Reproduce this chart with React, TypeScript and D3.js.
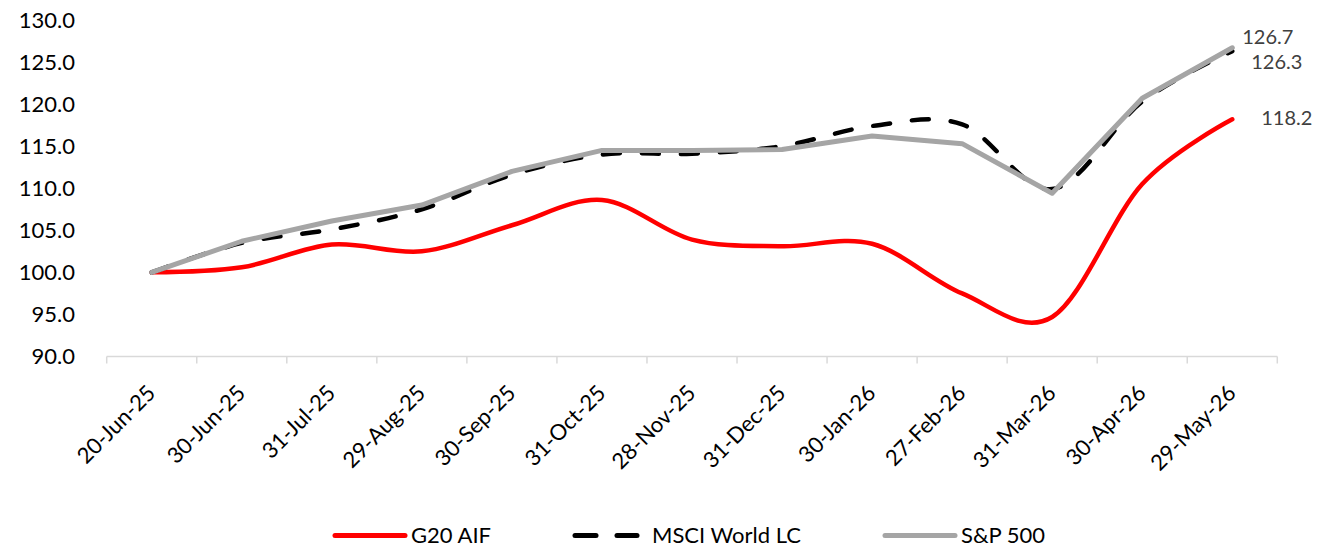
import React from "react";
import * as d3 from "d3";

// Index levels, rebased to 100 on 20-Jun-25
const categories = [
  "20-Jun-25", "30-Jun-25", "31-Jul-25", "29-Aug-25", "30-Sep-25", "31-Oct-25",
  "28-Nov-25", "31-Dec-25", "30-Jan-26", "27-Feb-26", "31-Mar-26", "30-Apr-26", "29-May-26",
];
const g20Aif = [100.0, 100.6, 103.3, 102.5, 105.6, 108.6, 103.9, 103.1, 103.4, 97.5, 94.7, 110.5, 118.2];
const msciWorld = [100.0, 103.5, 105.1, 107.5, 111.6, 114.0, 114.1, 115.0, 117.4, 117.6, 109.9, 120.3, 126.3];
const sp500 = [100.0, 103.7, 106.1, 108.0, 112.0, 114.5, 114.5, 114.6, 116.2, 115.3, 109.4, 120.7, 126.7];
const yTicks = [90, 95, 100, 105, 110, 115, 120, 125, 130];

const W = 1319;
const H = 549;
const FONT = "Lato, 'Open Sans', sans-serif";

const x = d3.scaleBand<string>().domain(categories).range([106.7, 1277.3]);
const y = d3.scaleLinear().domain([90, 130]).range([356.5, 20]);
const cx = (c: string) => (x(c) as number) + x.bandwidth() / 2;

const smooth = d3
  .line<number>()
  .x((_, i) => cx(categories[i]))
  .y((v) => y(v))
  .curve(d3.curveCatmullRom.alpha(0));
const straight = d3
  .line<number>()
  .x((_, i) => cx(categories[i]))
  .y((v) => y(v));

const series = [
  { name: "G20 AIF", color: "#FF0000", width: 4.5, dash: undefined as string | undefined, path: smooth(g20Aif), legendX: 335 },
  { name: "MSCI World LC", color: "#000000", width: 4.5, dash: "17 22", path: smooth(msciWorld), legendX: 575 },
  { name: "S&P 500", color: "#A5A5A5", width: 5, dash: undefined, path: straight(sp500), legendX: 885 },
];

const endLabels = [
  { text: sp500[sp500.length - 1].toFixed(1), dx: 10, y: 36.7 },
  { text: msciWorld[msciWorld.length - 1].toFixed(1), dx: 19, y: 61.7 },
  { text: g20Aif[g20Aif.length - 1].toFixed(1), dx: 29, y: 118.3 },
];

export default function App() {
  const ticks = [...categories.map((c) => x(c) as number), (x(categories[categories.length - 1]) as number) + x.bandwidth()];
  const lastX = cx(categories[categories.length - 1]);
  return (
    <svg
      width={W}
      height={H}
      viewBox={`0 0 ${W} ${H}`}
      style={{ position: "absolute", left: 0, top: 0, background: "#fff" }}
      fontFamily={FONT}
    >
      {/* y axis labels */}
      {yTicks.map((t) => (
        <text key={t} x={75} y={y(t)} dy="0.35em" textAnchor="end" fontSize={22} fill="#000">
          {t.toFixed(1)}
        </text>
      ))}

      {/* x axis */}
      <line x1={ticks[0]} x2={ticks[ticks.length - 1]} y1={y(90)} y2={y(90)} stroke="#D9D9D9" strokeWidth={1.5} />
      {ticks.map((t, i) => (
        <line key={i} x1={t} x2={t} y1={y(90)} y2={y(90) + 7} stroke="#D9D9D9" strokeWidth={1.5} />
      ))}
      {categories.map((c) => (
        <text
          key={c}
          transform={`translate(${cx(c) + 5},${y(90) + 38}) rotate(-45)`}
          textAnchor="end"
          fontSize={22}
          fill="#000"
        >
          {c}
        </text>
      ))}

      {/* series */}
      {series.map((s) => (
        <path
          key={s.name}
          d={s.path || ""}
          fill="none"
          stroke={s.color}
          strokeWidth={s.width}
          strokeDasharray={s.dash}
          strokeLinecap="round"
          strokeLinejoin="round"
        />
      ))}

      {/* end-point values */}
      {endLabels.map((l) => (
        <text key={l.text} x={lastX + l.dx} y={l.y} dy="0.35em" fontSize={20} fill="#404040">
          {l.text}
        </text>
      ))}

      {/* legend */}
      {series.map((s) => (
        <g key={s.name}>
          {s.dash ? (
            <>
              <line x1={s.legendX} x2={s.legendX + 21} y1={535.5} y2={535.5} stroke={s.color} strokeWidth={5} strokeLinecap="round" />
              <line x1={s.legendX + 42} x2={s.legendX + 62} y1={535.5} y2={535.5} stroke={s.color} strokeWidth={5} strokeLinecap="round" />
            </>
          ) : (
            <line x1={s.legendX} x2={s.legendX + 70} y1={535.5} y2={535.5} stroke={s.color} strokeWidth={5} strokeLinecap="round" />
          )}
          <text x={s.legendX + (s.dash ? 77 : 76)} y={535.5} dy="0.35em" fontSize={22} fill="#000">
            {s.name}
          </text>
        </g>
      ))}
    </svg>
  );
}
